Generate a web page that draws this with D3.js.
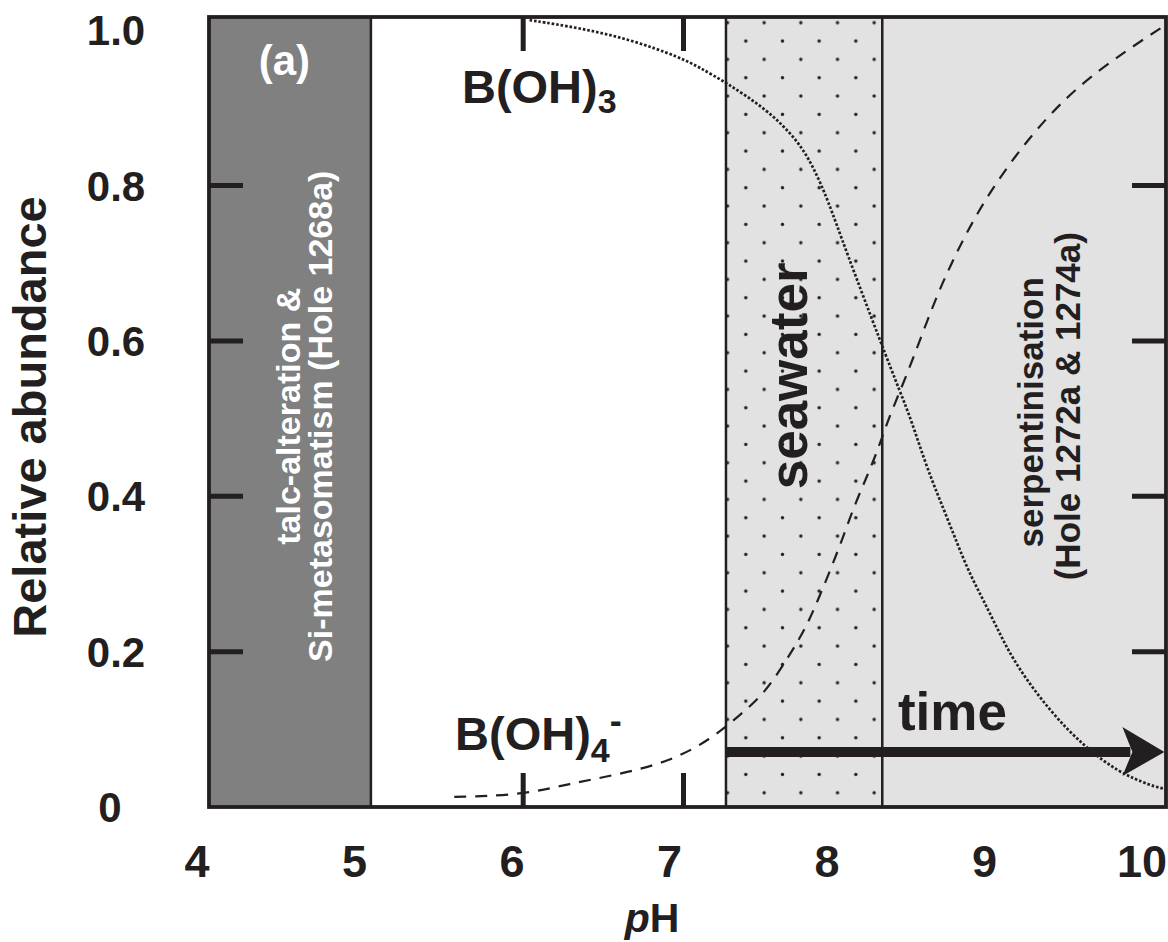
<!DOCTYPE html>
<html>
<head>
<meta charset="utf-8">
<script src="https://cdn.jsdelivr.net/npm/d3@7"></script>
<style>
  body { margin: 0; background: #fff; }
  svg text { font-family: "Liberation Sans", Arial, Helvetica, sans-serif; font-weight: bold; }
</style>
</head>
<body>
<div class="main"></div>
<script>
// axis ticks
var phTicks = [4, 5, 6, 7, 8, 9, 10];
var abundTicks = [0, 0.2, 0.4, 0.6, 0.8, 1.0];
var abundLabels = ['0', '0.2', '0.4', '0.6', '0.8', '1.0'];

// B(OH)3 (dotted)
var boh3PH  = [6.04, 6.35, 6.67, 6.98, 7.10, 7.27, 7.52, 7.71, 7.81, 7.90, 8.01, 8.24, 8.35, 8.42, 8.52, 8.65, 8.77, 8.87, 8.98, 9.08, 9.29, 9.50, 9.71, 9.92, 10.01];
var boh3Val = [1.013, 1.003, 0.988, 0.965, 0.952, 0.932, 0.898, 0.859, 0.824, 0.782, 0.718, 0.593, 0.535, 0.499, 0.435, 0.370, 0.306, 0.267, 0.220, 0.181, 0.122, 0.078, 0.045, 0.027, 0.023];

// B(OH)4- (dashed)
var boh4PH  = [5.57, 5.98, 6.29, 6.60, 6.92, 7.17, 7.35, 7.50, 7.62, 7.72, 7.79, 7.85, 7.93, 8.00, 8.07, 8.15, 8.22, 8.27, 8.35, 8.43, 8.54, 8.65, 8.87, 9.19, 9.47, 9.77, 10.01];
var boh4Val = [0.013, 0.015, 0.030, 0.042, 0.059, 0.087, 0.118, 0.145, 0.182, 0.215, 0.243, 0.272, 0.312, 0.350, 0.390, 0.428, 0.464, 0.495, 0.535, 0.576, 0.637, 0.692, 0.782, 0.872, 0.930, 0.975, 1.007];

// shaded pH zones
var zoneNames = ['talc', 'seawater', 'serpentinisation'];
var zoneStart = [4.04, 7.265, 8.24];
var zoneEnd   = [5.05, 8.24, 10.01];
var zoneFill  = ['#7f807f', '#e2e2e2', '#e2e2e2'];

var W = 1168, H = 942;
var margin = {left: 209, right: 1166, top: 17, bottom: 807};

var svg = d3.select('.main').append('svg')
    .attr('width', W)
    .attr('height', H);

var x = d3.scaleLinear().domain([4.04, 10.01]).range([margin.left, margin.right]);
var xLab = d3.scaleLinear().domain([4, 10]).range([197, 1142]);
var y = d3.scaleLinear().domain([0, 1.017]).range([margin.bottom, margin.top]);

var ink = '#231f20';

// dot texture for seawater
var defs = svg.append('defs');
var pat = defs.append('pattern')
    .attr('id', 'dots')
    .attr('patternUnits', 'userSpaceOnUse')
    .attr('x', 727.5).attr('y', 22.7)
    .attr('width', 36.67).attr('height', 36.67);
pat.append('rect').attr('width', 36.67).attr('height', 36.67).attr('fill', '#e2e2e2');
[[0, 0], [36.67, 0], [0, 36.67], [36.67, 36.67], [18.33, 18.33]].forEach(function(p) {
  pat.append('circle').attr('cx', p[0]).attr('cy', p[1]).attr('r', 1.7).attr('fill', ink);
});

// x ticks (inner, top & bottom) - zones cover the ones at 5, 8, 9
var tickLen = 34;
var xt = svg.append('g');
phTicks.filter(function(t) { return x(t) > margin.left + 5 && x(t) < margin.right - 5; }).forEach(function(t) {
  xt.append('line').attr('x1', x(t)).attr('x2', x(t)).attr('y1', margin.top).attr('y2', margin.top + tickLen)
    .attr('stroke', ink).attr('stroke-width', 5);
  xt.append('line').attr('x1', x(t)).attr('x2', x(t)).attr('y1', margin.bottom).attr('y2', margin.bottom - tickLen)
    .attr('stroke', ink).attr('stroke-width', 5);
});

// zones
svg.selectAll('.zone')
  .data(zoneNames)
  .enter().append('rect')
  .attr('class', 'zone')
  .attr('x', function(d, i) { return x(zoneStart[i]); })
  .attr('y', margin.top)
  .attr('width', function(d, i) { return x(zoneEnd[i]) - x(zoneStart[i]); })
  .attr('height', margin.bottom - margin.top)
  .attr('fill', function(d, i) { return d === 'seawater' ? 'url(#dots)' : zoneFill[i]; });

// zone borders
[zoneEnd[0], zoneStart[1], zoneStart[2]].forEach(function(v) {
  svg.append('line').attr('x1', x(v)).attr('x2', x(v)).attr('y1', margin.top).attr('y2', margin.bottom)
    .attr('stroke', ink).attr('stroke-width', 2.5);
});

// y ticks (inner, left & right)
abundTicks.slice(1, 5).forEach(function(t) {
  svg.append('line').attr('x1', margin.left).attr('x2', margin.left + tickLen).attr('y1', y(t)).attr('y2', y(t))
    .attr('stroke', ink).attr('stroke-width', 5);
  svg.append('line').attr('x1', margin.right).attr('x2', margin.right - tickLen).attr('y1', y(t)).attr('y2', y(t))
    .attr('stroke', ink).attr('stroke-width', 5);
});

// curves
var line = d3.line()
    .x(function(d) { return x(d[0]); })
    .y(function(d) { return y(d[1]); })
    .curve(d3.curveBasis);

svg.append('clipPath').attr('id', 'plotclip').append('rect')
  .attr('x', margin.left).attr('y', margin.top)
  .attr('width', margin.right - margin.left).attr('height', margin.bottom - margin.top);

svg.append('path')
  .datum(d3.zip(boh3PH, boh3Val))
  .attr('d', line)
  .attr('clip-path', 'url(#plotclip)')
  .attr('fill', 'none').attr('stroke', ink)
  .attr('stroke-width', 2.7).attr('stroke-dasharray', '2.6,1.9');

svg.append('path')
  .datum(d3.zip(boh4PH, boh4Val))
  .attr('d', line)
  .attr('clip-path', 'url(#plotclip)')
  .attr('fill', 'none').attr('stroke', ink)
  .attr('stroke-width', 2.2).attr('stroke-dasharray', '12,9');

// time arrow
var ay = y(0.0708);
var ax0 = x(zoneStart[1]), ax1 = x(10.0);
svg.append('line').attr('x1', ax0).attr('x2', ax1 - 34).attr('y1', ay).attr('y2', ay)
  .attr('stroke', ink).attr('stroke-width', 10);
svg.append('path')
  .attr('d', 'M' + ax1 + ',' + ay + ' L' + (ax1 - 42) + ',' + (ay - 25) + ' L' + (ax1 - 32) + ',' + ay +
        ' L' + (ax1 - 42) + ',' + (ay + 24) + ' Z')
  .attr('fill', ink);

// frame
svg.append('rect').attr('x', margin.left).attr('y', margin.top)
  .attr('width', margin.right - margin.left).attr('height', margin.bottom - margin.top)
  .attr('fill', 'none').attr('stroke', ink).attr('stroke-width', 3.8);

// tick labels
svg.selectAll('.xlab')
  .data(phTicks)
  .enter().append('text')
  .attr('class', 'xlab')
  .attr('x', function(d) { return xLab(d); })
  .attr('y', 877)
  .attr('text-anchor', 'middle')
  .attr('font-size', 45)
  .attr('fill', ink)
  .text(function(d) { return d; });

svg.selectAll('.ylab')
  .data(abundTicks)
  .enter().append('text')
  .attr('class', 'ylab')
  .attr('x', function(d) { return d === 0 ? 110 : 116; })
  .attr('y', function(d) { return y(d) + 15; })
  .attr('text-anchor', 'middle')
  .attr('font-size', 42)
  .attr('fill', ink)
  .text(function(d, i) { return abundLabels[i]; });

// axis titles
var xt2 = svg.append('text').attr('x', 652).attr('y', 932).attr('text-anchor', 'middle')
  .attr('font-size', 41).attr('fill', ink);
xt2.append('tspan').attr('font-style', 'italic').text('p');
xt2.append('tspan').text('H');

svg.append('text')
  .attr('transform', 'translate(46,417) rotate(-90)')
  .attr('text-anchor', 'middle')
  .attr('font-size', 47)
  .attr('fill', ink)
  .text('Relative abundance');

// annotations
svg.append('text').attr('x', x(4.51)).attr('y', y(0.942)).attr('text-anchor', 'middle')
  .attr('font-size', 42).attr('fill', '#fff').text('(a)');

var b3 = svg.append('text').attr('x', x(5.618)).attr('y', y(0.906)).attr('font-size', 47).attr('fill', ink);
b3.append('tspan').text('B(OH)');
b3.append('tspan').attr('font-size', 34).attr('dy', 10).text('3');

var b4 = svg.append('text').attr('x', x(5.575)).attr('y', y(0.0734)).attr('font-size', 47).attr('fill', ink);
b4.append('tspan').text('B(OH)');
b4.append('tspan').attr('font-size', 34).attr('dy', 12).text('4');
b4.append('tspan').attr('font-size', 36).attr('dy', -29).text('-');

svg.append('text').attr('x', x(8.338)).attr('y', y(0.099)).attr('font-size', 53).attr('fill', ink).text('time');

svg.append('text')
  .attr('transform', 'translate(' + x(7.77) + ',' + y(0.555) + ') rotate(-90)')
  .attr('text-anchor', 'middle').attr('font-size', 53).attr('fill', ink).text('seawater');

var talc = svg.append('g').attr('fill', '#fff');
talc.append('text')
  .attr('transform', 'translate(' + x(4.608) + ',' + y(0.503) + ') rotate(-90)')
  .attr('text-anchor', 'middle').attr('font-size', 34).text('talc-alteration &');
talc.append('text')
  .attr('transform', 'translate(' + x(4.807) + ',' + y(0.503) + ') rotate(-90)')
  .attr('text-anchor', 'middle').attr('font-size', 34).text('Si-metasomatism (Hole 1268a)');

svg.append('text')
  .attr('transform', 'translate(' + x(9.243) + ',' + y(0.508) + ') rotate(-90)')
  .attr('text-anchor', 'middle').attr('font-size', 35).attr('fill', ink).text('serpentinisation');
svg.append('text')
  .attr('transform', 'translate(' + x(9.474) + ',' + y(0.516) + ') rotate(-90)')
  .attr('text-anchor', 'middle').attr('font-size', 35).attr('fill', ink).text('(Hole 1272a & 1274a)');
</script>
</body>
</html>
